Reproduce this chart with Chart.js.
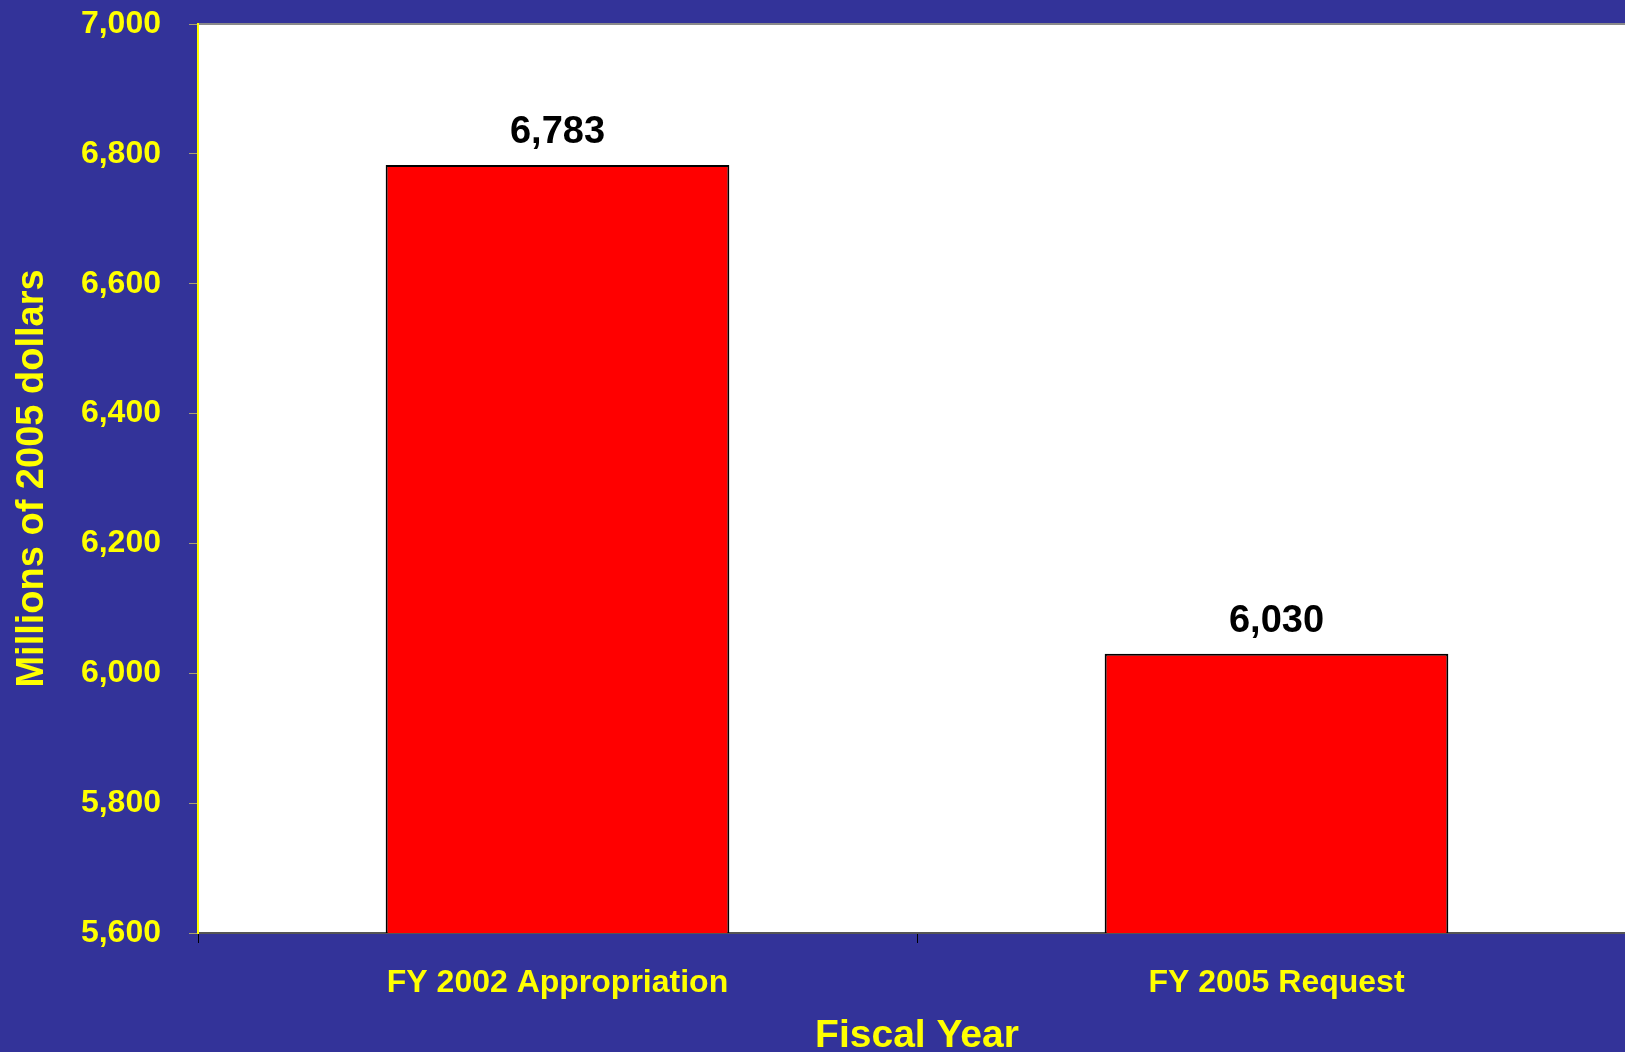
<!DOCTYPE html>
<html>
<head>
<meta charset="utf-8">
<script src="https://cdn.jsdelivr.net/npm/chart.js@4/dist/chart.umd.min.js"></script>
<style>
    html, body { margin: 0; padding: 0; background: #333399; overflow: hidden; }
    #wrap { width: 1636px; height: 1052px; }
</style>
</head>
<body>
<div id="wrap"><canvas id="budget-chart" width="1636" height="1052"></canvas></div>
<script>
// Chart data
const categories = ['FY 2002 Appropriation', 'FY 2005 Request'];
const amounts = [6783, 6030];
const yMin = 5600;
const yMax = 7000;
const yStep = 200;

const FONT = '"Liberation Sans", Arial, sans-serif';
const YELLOW = '#FFFF00';

// White plot area + grey top edge
const plotBackground = {
    id: 'plotBackground',
    beforeDraw(chart) {
        const { ctx, chartArea } = chart;
        ctx.save();
        ctx.fillStyle = '#ffffff';
        ctx.fillRect(chartArea.left, chartArea.top, chartArea.right - chartArea.left, chartArea.bottom - chartArea.top);
        ctx.strokeStyle = '#8a8a8a';
        ctx.lineWidth = 2;
        ctx.beginPath();
        ctx.moveTo(chartArea.left, chartArea.top);
        ctx.lineTo(chartArea.right, chartArea.top);
        ctx.stroke();
        ctx.restore();
    }
};

// Value labels above bars
const valueLabels = {
    id: 'valueLabels',
    afterDatasetsDraw(chart) {
        const { ctx } = chart;
        const meta = chart.getDatasetMeta(0);
        ctx.save();
        ctx.font = 'bold 38px ' + FONT;
        ctx.fillStyle = '#000000';
        ctx.textAlign = 'center';
        ctx.textBaseline = 'alphabetic';
        meta.data.forEach((bar, i) => {
            const v = chart.data.datasets[0].data[i];
            ctx.fillText(v.toLocaleString('en-US'), bar.x, bar.y - 22);
        });
        ctx.restore();
    }
};

const ctx = document.getElementById('budget-chart').getContext('2d');
const budgetChart = new Chart(ctx, {
    type: 'bar',
    data: {
        labels: categories,
        datasets: [{
            data: amounts,
            backgroundColor: '#FF0000',
            borderColor: '#000000',
            borderWidth: 2,
            categoryPercentage: 1.0,
            barPercentage: 0.478
        }]
    },
    options: {
        responsive: false,
        animation: false,
        devicePixelRatio: 1,
        layout: { padding: { top: 24, left: 0, right: 0, bottom: 0 } },
        plugins: {
            legend: { display: false },
            tooltip: { enabled: false }
        },
        scales: {
            x: {
                offset: true,
                border: { display: true, color: '#555555', width: 2 },
                grid: {
                    offset: true,
                    drawOnChartArea: false,
                    drawTicks: true,
                    tickLength: 10,
                    color: '#000000'
                },
                ticks: {
                    color: YELLOW,
                    font: { family: FONT, size: 32, weight: 'bold' },
                    padding: 21,
                    maxRotation: 0,
                    autoSkip: false
                },
                title: {
                    display: true,
                    text: 'Fiscal Year',
                    color: YELLOW,
                    font: { family: FONT, size: 39, weight: 'bold', lineHeight: 0.8 },
                    padding: { top: 0, bottom: 0 }
                },
                afterFit(scale) {
                    scale.height = 119;
                    scale.paddingLeft = 0;
                    scale.paddingRight = 0;
                }
            },
            y: {
                min: yMin,
                max: yMax,
                border: { display: true, color: YELLOW, width: 2 },
                grid: {
                    drawOnChartArea: false,
                    drawTicks: true,
                    tickLength: 9,
                    color: '#a8a070'
                },
                ticks: {
                    stepSize: yStep,
                    color: YELLOW,
                    font: { family: FONT, size: 32, weight: 'bold' },
                    padding: 28,
                    callback: value => value.toLocaleString('en-US')
                },
                title: {
                    display: true,
                    text: 'Millions of 2005 dollars',
                    color: YELLOW,
                    font: { family: FONT, size: 38, weight: 'bold' },
                    padding: { top: 10, bottom: 0 }
                },
                afterFit(scale) {
                    scale.width = 198;
                    scale.paddingTop = 0;
                    scale.paddingBottom = 0;
                }
            }
        }
    },
    plugins: [plotBackground, valueLabels]
});
</script>
</body>
</html>
